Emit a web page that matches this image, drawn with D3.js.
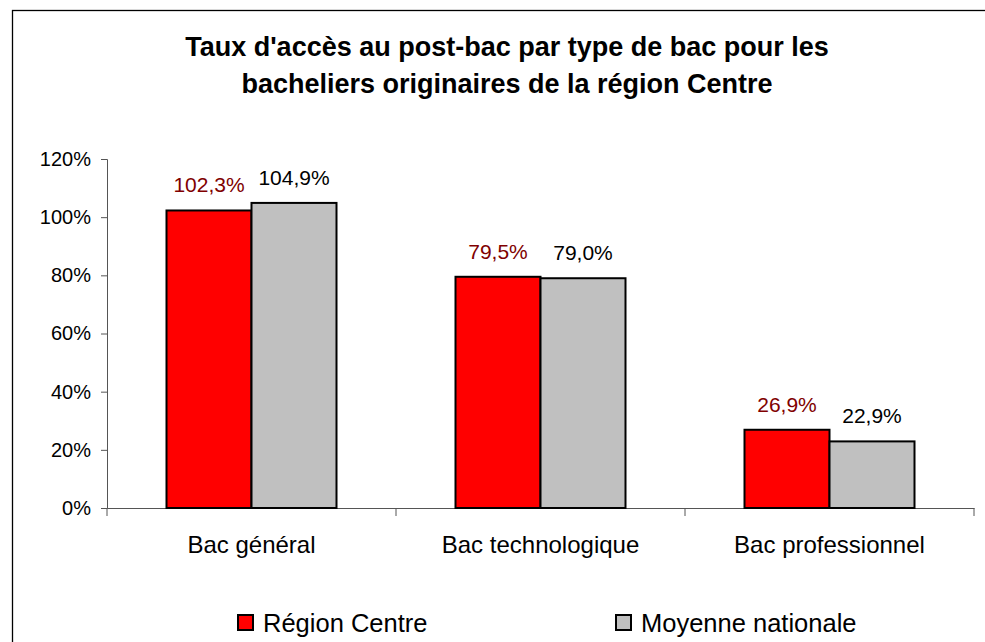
<!DOCTYPE html>
<html lang="fr">
<head>
<meta charset="utf-8">
<title>Taux d'accès au post-bac</title>
<script src="https://d3js.org/d3.v7.min.js"></script>
<style>
  body { margin: 0; background: #fff; }
  text { font-family: "Liberation Sans", Arial, sans-serif; }
</style>
</head>
<body>
<script>
// data
var categories = ["Bac général", "Bac technologique", "Bac professionnel"];
var seriesNames = ["Région Centre", "Moyenne nationale"];
var regionCentre = [102.3, 79.5, 26.9];
var moyenneNationale = [104.9, 79.0, 22.9];
var yTicks = [0, 20, 40, 60, 80, 100, 120];

var width = 985, height = 642;
var margin = { top: 159, right: 11, bottom: 134, left: 107 };
var w = width - margin.left - margin.right;
var h = height - margin.top - margin.bottom;

var fills = ["#ff0000", "#c0c0c0"];
var labelColors = ["#800000", "#000000"];
var fmt = function(v) { return v.toFixed(1).replace(".", ",") + "%"; };

var svg = d3.select("body").append("svg")
  .attr("width", width)
  .attr("height", height);

// frame (right and bottom edges fall outside the picture)
svg.append("rect")
  .attr("x", 12.5).attr("y", 10.5)
  .attr("width", 1000).attr("height", 700)
  .attr("fill", "none").attr("stroke", "#000").attr("stroke-width", 1.3);

// title
var title = svg.append("text")
  .attr("x", 507).attr("y", 56)
  .attr("text-anchor", "middle")
  .attr("font-size", "27px").attr("font-weight", "bold");
title.append("tspan").attr("x", 507).text("Taux d'accès au post-bac par type de bac pour les");
title.append("tspan").attr("x", 507).attr("dy", 37).text("bacheliers originaires de la région Centre");

var g = svg.append("g").attr("transform", "translate(" + margin.left + "," + margin.top + ")");

var x0 = d3.scaleBand().domain(categories).range([0, w]).paddingInner(0).paddingOuter(0);
var x1 = d3.scaleBand().domain(seriesNames).range([0, x0.bandwidth()]).paddingInner(0).paddingOuter(0.7);
var y = d3.scaleLinear().domain([0, 120]).range([h, 0]);

// y axis
var yAxis = d3.axisLeft(y).tickValues(yTicks).tickSize(6).tickPadding(10)
  .tickFormat(function(d) { return d + "%"; });
var ya = g.append("g").call(yAxis);
ya.select(".domain").attr("stroke", "#555");
ya.selectAll(".tick line").attr("stroke", "#555");
ya.selectAll("text").attr("font-size", "20px").attr("fill", "#000")
  .attr("font-family", "Liberation Sans, Arial, sans-serif");

// x axis
var xAxis = d3.axisBottom(x0).tickSize(0).tickPadding(28);
var xa = g.append("g").attr("transform", "translate(0," + h + ")").call(xAxis);
xa.select(".domain").attr("stroke", "#555");
xa.selectAll("text").attr("font-size", "24px").attr("fill", "#000")
  .attr("font-family", "Liberation Sans, Arial, sans-serif");
// category separator ticks
xa.selectAll(".sep")
  .data(d3.range(categories.length + 1))
  .enter().append("line")
  .attr("x1", function(i) { return i * x0.bandwidth(); })
  .attr("x2", function(i) { return i * x0.bandwidth(); })
  .attr("y1", 0).attr("y2", 8)
  .attr("stroke", "#555");

// bars
var series = [regionCentre, moyenneNationale];
var groups = g.selectAll(".grp")
  .data(categories)
  .enter().append("g")
  .attr("transform", function(d) { return "translate(" + x0(d) + ",0)"; });

groups.selectAll("rect")
  .data(function(d, i) { return seriesNames.map(function(s, j) { return { s: s, j: j, v: series[j][i] }; }); })
  .enter().append("rect")
  .attr("x", function(d) { return x1(d.s); })
  .attr("y", function(d) { return y(d.v); })
  .attr("width", x1.bandwidth())
  .attr("height", function(d) { return h - y(d.v); })
  .attr("fill", function(d) { return fills[d.j]; })
  .attr("stroke", "#000").attr("stroke-width", 2);

groups.selectAll(".lbl")
  .data(function(d, i) { return seriesNames.map(function(s, j) { return { s: s, j: j, v: series[j][i] }; }); })
  .enter().append("text")
  .attr("x", function(d) { return x1(d.s) + x1.bandwidth() / 2; })
  .attr("y", function(d) { return y(d.v) - 18; })
  .attr("text-anchor", "middle")
  .attr("font-size", "21px")
  .attr("fill", function(d) { return labelColors[d.j]; })
  .text(function(d) { return fmt(d.v); });

// legend
var legX = [237, 615];
var leg = svg.selectAll(".leg")
  .data(seriesNames)
  .enter().append("g")
  .attr("transform", function(d, i) { return "translate(" + legX[i] + ",614)"; });
leg.append("rect")
  .attr("x", 1).attr("y", 1)
  .attr("width", 15).attr("height", 15)
  .attr("fill", function(d, i) { return fills[i]; })
  .attr("stroke", "#000").attr("stroke-width", 2);
leg.append("text")
  .attr("x", 26).attr("y", 18)
  .attr("font-size", "25.5px")
  .text(function(d) { return d; });
</script>
</body>
</html>
